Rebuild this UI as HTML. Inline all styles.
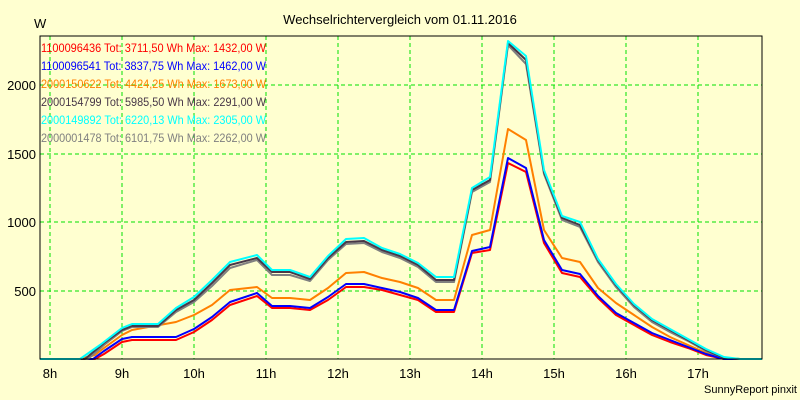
<!DOCTYPE html>
<html><head><meta charset="utf-8"><style>
html,body{margin:0;padding:0;background:#ffffd0;}
svg{display:block;font-family:"Liberation Sans",sans-serif;}
</style></head><body>
<svg width="800" height="400" xmlns="http://www.w3.org/2000/svg">
<rect width="800" height="400" fill="#ffffd0"/>
<text x="400" y="24" font-size="13" text-anchor="middle" fill="#000">Wechselrichtervergleich vom 01.11.2016</text>
<text x="34" y="28" font-size="13" fill="#000">W</text>
<g stroke="#00e000" stroke-dasharray="4,3" stroke-width="1">
<line x1="50" y1="36" x2="50" y2="359"/><line x1="122" y1="36" x2="122" y2="359"/>
<line x1="194" y1="36" x2="194" y2="359"/><line x1="266" y1="36" x2="266" y2="359"/>
<line x1="338" y1="36" x2="338" y2="359"/><line x1="410" y1="36" x2="410" y2="359"/>
<line x1="482" y1="36" x2="482" y2="359"/><line x1="554" y1="36" x2="554" y2="359"/>
<line x1="626" y1="36" x2="626" y2="359"/><line x1="698" y1="36" x2="698" y2="359"/>
<line x1="40" y1="291" x2="762" y2="291"/><line x1="40" y1="222" x2="762" y2="222"/>
<line x1="40" y1="154" x2="762" y2="154"/><line x1="40" y1="85" x2="762" y2="85"/>
</g>
<g font-size="13" fill="#000" text-anchor="end">
<text x="36" y="296">500</text><text x="36" y="227">1000</text><text x="36" y="159">1500</text><text x="36" y="90">2000</text>
</g>
<g font-size="13" fill="#000" text-anchor="middle">
<text x="50" y="378">8h</text><text x="122" y="378">9h</text><text x="194" y="378">10h</text><text x="266" y="378">11h</text><text x="338" y="378">12h</text><text x="410" y="378">13h</text><text x="482" y="378">14h</text><text x="554" y="378">15h</text><text x="626" y="378">16h</text><text x="698" y="378">17h</text>
</g>
<text x="797" y="393" font-size="11" text-anchor="end" fill="#000">SunnyReport pinxit</text>
<g fill="none" stroke-width="2" stroke-linejoin="round">
<polyline stroke="#ff8000" points="40,359 80,359 95,355 104,348 122,335 132,330 176,322 194,315 212,305 230,290 257,287 272,298 290,298 310,300 328,288 346,273 364,272 382,278 400,282 418,288 436,300 454,300 472,235 490,230 508,129 526,140 544,230 562,258 580,262 598,288 616,303 634,315 652,327 670,337 688,345 706,353 724,359 762,359"/>
<polyline stroke="#ff0000" points="40,359 95,359 104,354 122,342 132,340 176,340 194,332 212,320 230,305 257,296 272,308 290,308 310,310 328,300 346,287 364,287 382,290 400,295 418,300 436,312 454,312 472,253 490,250 508,163 526,172 544,243 562,273 580,277 598,298 616,315 634,325 652,335 670,342 688,348 706,355 724,359 762,359"/>
<polyline stroke="#0000ff" points="40,359 93,359 104,351 122,339 132,337 176,337 194,329 212,317 230,302 257,293 272,306 290,306 310,308 328,297 346,284 364,284 382,288 400,292 418,298 436,310 454,310 472,251 490,247 508,158 526,168 544,240 562,270 580,274 598,296 616,313 634,323 652,333 670,340 688,347 706,354 724,359 762,359"/>
<polyline stroke="#808080" points="40,359 88,359 104,345 122,331 132,327 158,327 176,312 194,302 212,286 230,268 257,260 272,275 290,275 310,281 328,260 346,244 364,243 382,252 400,258 418,267 436,282 454,282 472,192 490,182 508,45 526,64 544,174 562,220 580,227 598,262 616,287 634,307 652,322 670,332 688,341 706,351 724,358 740,359 762,359"/>
<polyline stroke="#483848" points="40,359 85,359 104,343 122,330 132,326 158,326 176,310 194,300 212,283 230,265 257,258 272,272 290,272 310,279 328,258 346,242 364,241 382,250 400,256 418,265 436,280 454,280 472,190 490,180 508,43 526,60 544,172 562,218 580,225 598,260 616,285 634,305 652,320 670,330 688,340 706,350 724,358 740,359 762,359"/>
<polyline stroke="#00ffff" points="40,359 80,359 100,345 122,328 132,324 158,324 176,308 194,297 212,280 230,262 257,255 272,270 290,270 310,277 328,256 346,239 364,238 382,248 400,254 418,263 436,277 454,277 472,188 490,177 508,41 526,56 544,170 562,216 580,222 598,259 616,284 634,304 652,319 670,329 688,339 706,349 724,357 740,359 762,359"/>
</g>
<rect x="40" y="36" width="722" height="323" fill="none" stroke="#000" stroke-width="1"/>
<g font-size="12" lengthAdjust="spacingAndGlyphs">
<text x="41" y="52" fill="#ff0000" textLength="225" lengthAdjust="spacingAndGlyphs">1100096436 Tot: 3711,50 Wh Max: 1432,00 W</text>
<text x="41" y="70" fill="#0000ff" textLength="225" lengthAdjust="spacingAndGlyphs">1100096541 Tot: 3837,75 Wh Max: 1462,00 W</text>
<text x="41" y="88" fill="#ff8000" textLength="225" lengthAdjust="spacingAndGlyphs">2000150622 Tot: 4424,25 Wh Max: 1673,00 W</text>
<text x="41" y="106" fill="#483848" textLength="225" lengthAdjust="spacingAndGlyphs">2000154799 Tot: 5985,50 Wh Max: 2291,00 W</text>
<text x="41" y="124" fill="#00ffff" textLength="225" lengthAdjust="spacingAndGlyphs">2000149892 Tot: 6220,13 Wh Max: 2305,00 W</text>
<text x="41" y="142" fill="#808080" textLength="225" lengthAdjust="spacingAndGlyphs">2000001478 Tot: 6101,75 Wh Max: 2262,00 W</text>
</g>
</svg>
</body></html>
